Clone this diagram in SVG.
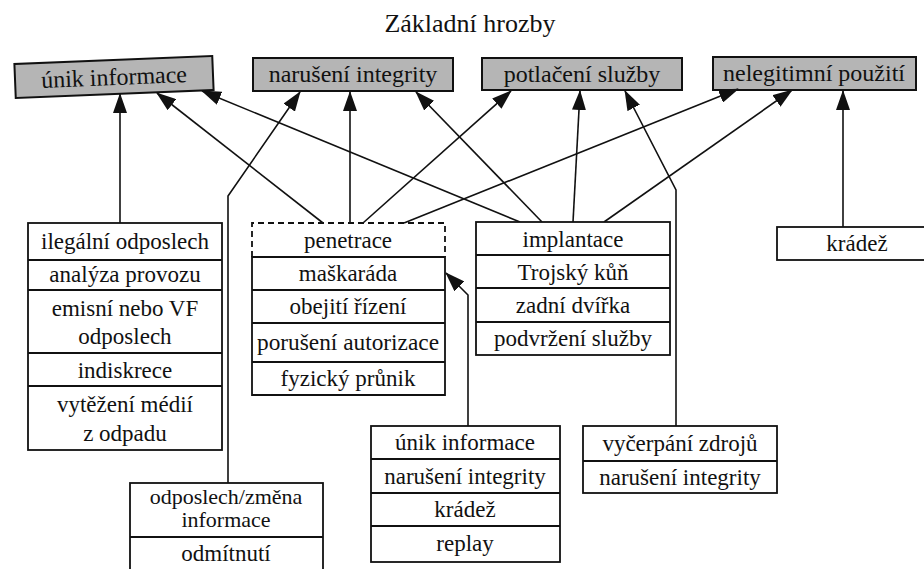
<svg xmlns="http://www.w3.org/2000/svg" width="924" height="569" viewBox="0 0 924 569">
<defs>
<style>
text{font-family:"Liberation Serif","Times New Roman",Times,"DejaVu Serif",serif;font-size:23px;fill:#111;text-anchor:middle}
.tt{font-size:24px}
.threat{fill:#b5b5b5;stroke:#111;stroke-width:2}
.box{fill:#fff;stroke:#111;stroke-width:1.8}
.div{stroke:#111;stroke-width:1.8;fill:none}
.dash{stroke:#111;stroke-width:1.8;fill:none;stroke-dasharray:6 4}
.conn{stroke:#111;stroke-width:1.6;fill:none;marker-end:url(#ah)}
</style>
<marker id="ah" markerWidth="20" markerHeight="14" refX="19" refY="7" orient="auto" markerUnits="userSpaceOnUse">
<path d="M0,0 L20,7 L0,14 z" fill="#111"/>
</marker>
</defs>
<rect width="924" height="569" fill="#fff"/>
<text x="470" y="32" style="font-size:26px">Základní hrozby</text>

<g id="t-unik" transform="rotate(-2.3 114 77)">
<rect class="threat" x="15" y="60" width="198" height="34"/>
<text class="tt" x="114" y="85">únik informace</text>
</g>
<g id="t-naruseni">
<rect class="threat" x="253" y="58" width="200" height="33"/>
<text class="tt" x="353" y="82">narušení integrity</text>
</g>
<g id="t-potlaceni">
<rect class="threat" x="482" y="58" width="200" height="32"/>
<text class="tt" x="582" y="82">potlačení služby</text>
</g>
<g id="t-nelegitimni">
<rect class="threat" x="713" y="57" width="203" height="33"/>
<text class="tt" x="814" y="81">nelegitimní použití</text>
</g>

<g id="connectors">
<path class="conn" d="M120,223 L120,94"/>
<path class="conn" d="M323,223 L157,93"/>
<path class="conn" d="M520,222 L202,91"/>
<path class="conn" d="M228,483 L228,196 L300,92"/>
<path class="conn" d="M350,223 L350,92"/>
<path class="conn" d="M542,222 L416,92"/>
<path class="conn" d="M363,223 L511,91"/>
<path class="conn" d="M573,222 L580,91"/>
<path class="conn" d="M676,426 L676,190 L625,91"/>
<path class="conn" d="M404,223 L738,89"/>
<path class="conn" d="M604,222 L792,90"/>
<path class="conn" d="M843,227 L843,91"/>
<path class="conn" d="M468,426 L468,295 L446,273"/>
</g>

<g id="n-odposlech">
<rect class="box" x="28" y="223" width="194" height="227"/>
<path class="div" d="M28,260 H222 M28,290 H222 M28,353 H222 M28,386 H222"/>
<text x="125" y="249">ilegální odposlech</text>
<text x="125" y="282">analýza provozu</text>
<text x="125" y="316">emisní nebo VF</text>
<text x="125" y="344">odposlech</text>
<text x="125" y="378">indiskrece</text>
<text x="125" y="412">vytěžení médií</text>
<text x="125" y="441">z odpadu</text>
</g>

<g id="n-penetrace">
<path class="dash" d="M252,257 V223 H445 V257"/>
<path class="div" d="M252,257 V395 H445 V257 Z M252,290 H445 M252,323 H445 M252,362 H445"/>
<text x="348" y="248">penetrace</text>
<text x="348" y="281">maškaráda</text>
<text x="348" y="314">obejití řízení</text>
<text x="348" y="350" textLength="182" lengthAdjust="spacingAndGlyphs">porušení autorizace</text>
<text x="348" y="386">fyzický průnik</text>
</g>

<g id="n-implantace">
<rect class="box" x="476" y="222" width="194" height="133"/>
<path class="div" d="M476,255 H670 M476,288 H670 M476,322 H670"/>
<text x="573" y="247">implantace</text>
<text x="573" y="280">Trojský kůň</text>
<text x="573" y="313">zadní dvířka</text>
<text x="573" y="346">podvržení služby</text>
</g>

<g id="n-kradez">
<rect class="box" x="777" y="227" width="160" height="33"/>
<text x="857" y="251">krádež</text>
</g>

<g id="n-unik2">
<rect class="box" x="371" y="426" width="189" height="136"/>
<path class="div" d="M371,459 H560 M371,493 H560 M371,526 H560"/>
<text x="465" y="450">únik informace</text>
<text x="465" y="484">narušení integrity</text>
<text x="465" y="517">krádež</text>
<text x="465" y="551">replay</text>
</g>

<g id="n-vycerpani">
<rect class="box" x="583" y="426" width="194" height="67"/>
<path class="div" d="M583,461 H777"/>
<text x="680" y="451">vyčerpání zdrojů</text>
<text x="680" y="485">narušení integrity</text>
</g>

<g id="n-zmena">
<rect class="box" x="130" y="483" width="193" height="100"/>
<path class="div" d="M130,537 H323"/>
<text x="226" y="504" style="font-size:22px">odposlech/změna</text>
<text x="226" y="527" style="font-size:22px">informace</text>
<text x="226" y="561">odmítnutí</text>
</g>
</svg>
